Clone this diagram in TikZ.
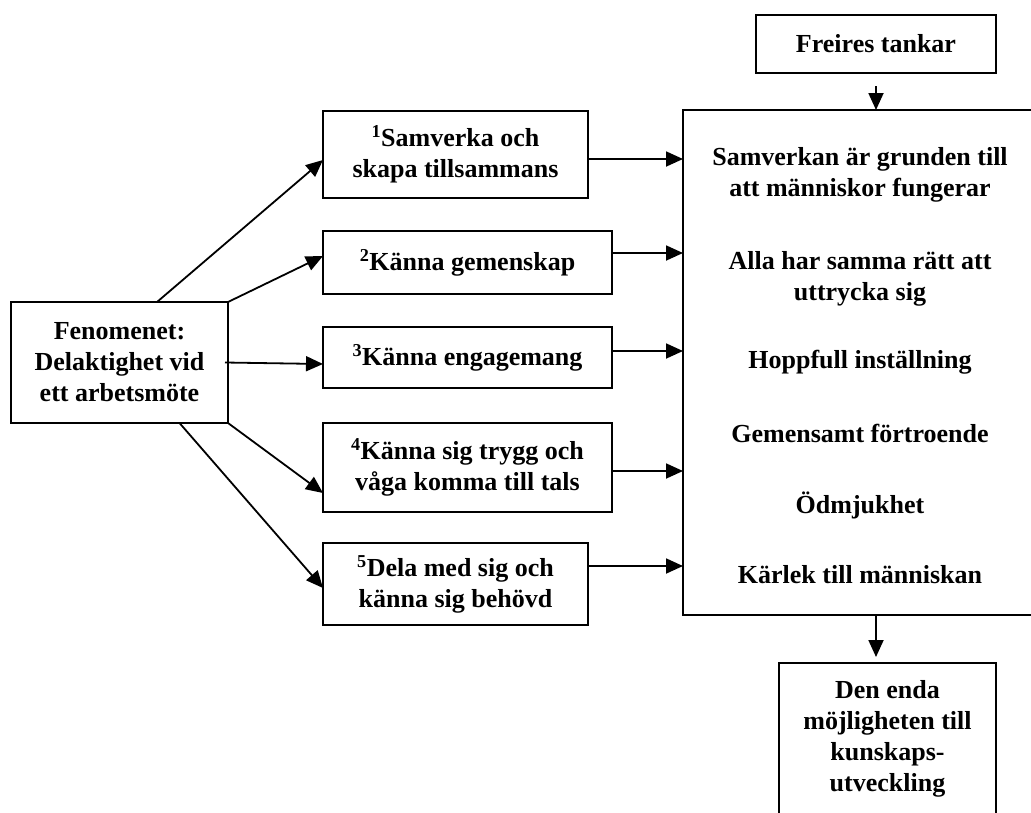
\documentclass[tikz,border=0pt]{standalone}
\usepackage{fontspec}
\setmainfont{Liberation Serif}
\usetikzlibrary{arrows.meta,calc}
\begin{document}
\begin{tikzpicture}[x=1pt,y=-1pt,
  txt/.style={font=\fontsize{26}{31}\selectfont\bfseries, align=center, inner sep=0pt},
  box/.style={draw, line width=2pt, inner sep=0pt, outer sep=0pt, txt},
  arr/.style={line width=1.8pt, -{Triangle[length=17pt,width=15pt]}}]
\useasboundingbox (0,0) rectangle (1031,812);
% boxes
\node[box, minimum width=217pt, minimum height=121pt] (fen) at (119.5,362.5) {Fenomenet:\\Delaktighet vid\\ett arbetsmöte};
\node[box, minimum width=265pt, minimum height=87pt] (b1) at (455.5,154.5) {\textsuperscript{1}Samverka och\\skapa tillsammans};
\node[box, minimum width=289pt, minimum height=63pt] (b2) at (467.5,262.5) {\textsuperscript{2}Känna gemenskap};
\node[box, minimum width=289pt, minimum height=61pt] (b3) at (467.5,357.5) {\textsuperscript{3}Känna engagemang};
\node[box, minimum width=289pt, minimum height=89pt] (b4) at (467.5,467.5) {\textsuperscript{4}Känna sig trygg och\\våga komma till tals};
\node[box, minimum width=265pt, minimum height=82pt] (b5) at (455.5,584) {\textsuperscript{5}Dela med sig och\\känna sig behövd};
\node[box, minimum width=240pt, minimum height=58pt] (fr) at (876,44) {Freires tankar};
\node[box, minimum width=354pt, minimum height=505pt] (big) at (860,362.5) {};
\node[box, minimum width=217pt, minimum height=190pt, anchor=north] (bot) at (887.5,663) {};
% texts in big box
\node[txt] (t1) at (860,175) {Samverkan är grunden till\\att människor fungerar};
\node[txt] (t2) at (860,279) {Alla har samma rätt att\\uttrycka sig};
\node[txt] (t3) at (860,362) {Hoppfull inställning};
\node[txt] (t4) at (860,433) {Gemensamt förtroende};
\node[txt] (t5) at (860,505) {Ödmjukhet};
\node[txt] (t6) at (860,575) {Kärlek till människan};
\node[txt] (t7) at (887.5,738.5) {Den enda\\möjligheten till\\kunskaps-\\utveckling};
% arrows from fenomenet
\draw[arr] ($(fen.north)+(37.5,0)$) -- ($(b1.west)+(0,5.5)$);
\draw[arr] (fen.north east) -- ($(b2.west)+(0,-6.5)$);
\draw[arr] ($(fen.east)+(-3,0)$) -- ($(b3.west)+(0,6.5)$);
\draw[arr] (fen.south east) -- ($(b4.west)+(0,25.5)$);
\draw[arr] ($(fen.south)+(60,0)$) -- ($(b5.west)+(0,4)$);
% arrows to big box
\draw[arr] ($(b1.east)+(0,4.5)$) -- ($(b1.east -| big.west)+(0,4.5)$);
\draw[arr] ($(b2.east)+(0,-9.5)$) -- ($(b2.east -| big.west)+(0,-9.5)$);
\draw[arr] ($(b3.east)+(0,-6.5)$) -- ($(b3.east -| big.west)+(0,-6.5)$);
\draw[arr] ($(b4.east)+(0,3.5)$) -- ($(b4.east -| big.west)+(0,3.5)$);
\draw[arr] ($(b5.east)+(0,-18)$) -- ($(b5.east -| big.west)+(0,-18)$);
% vertical arrows
\draw[arr] ($(fr.south)+(0,13)$) -- (fr.south |- big.north);
\draw[arr] (fr.south |- big.south) -- ($(fr.south |- bot.north)+(0,-6)$);
\end{tikzpicture}
\end{document}
